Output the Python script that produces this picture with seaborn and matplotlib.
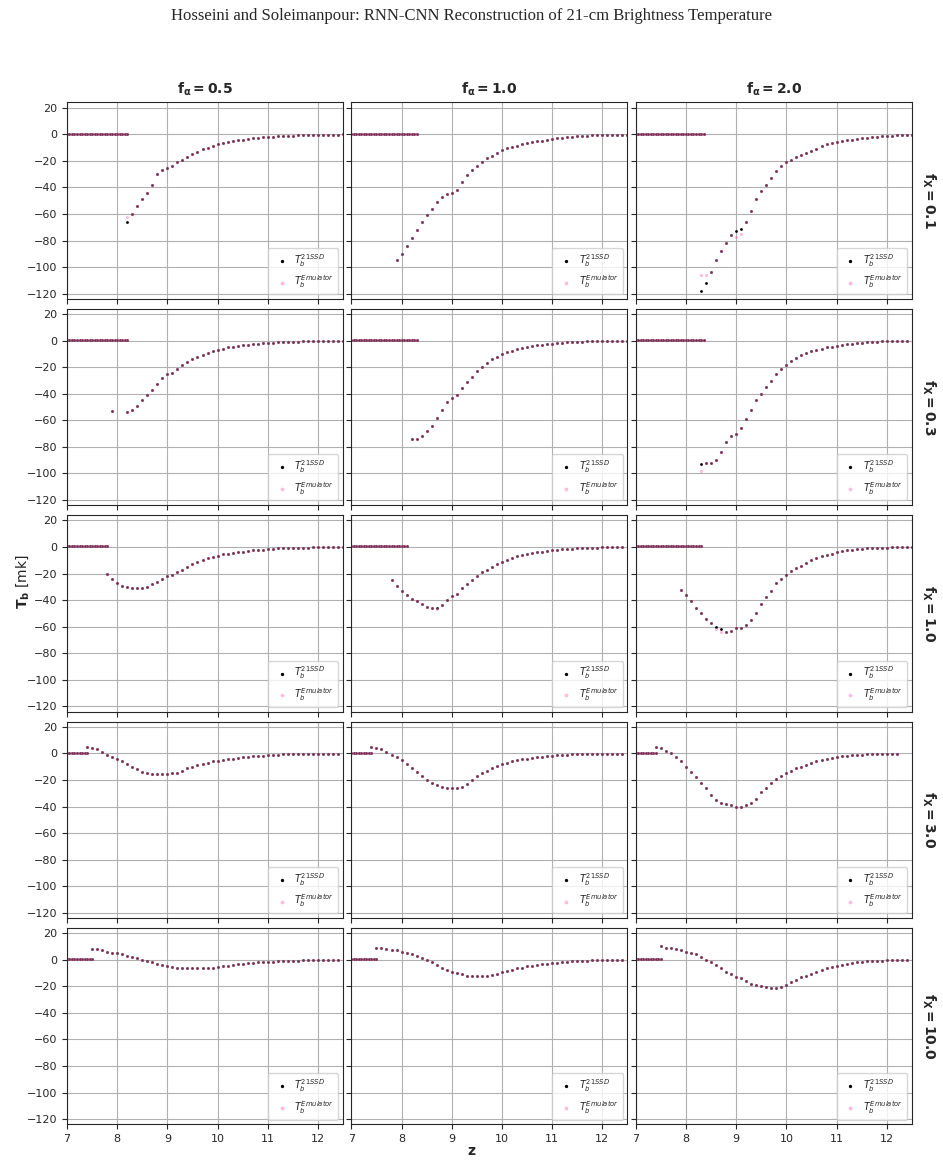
import numpy as np
import pandas as pd
import matplotlib
matplotlib.use("Agg")
import matplotlib.pyplot as plt
import seaborn as sns

# column / row parameters
f_alpha = [0.5, 1.0, 2.0]
f_x = [0.1, 0.3, 1.0, 3.0, 10.0]

# where the flat (pre-reionisation) segment ends, per row x column
flat_end = [[8.2, 8.3, 8.35], [8.2, 8.3, 8.35], [7.8, 8.1, 8.3],
            [7.4, 7.4, 7.4], [7.5, 7.5, 7.5]]
flat_level = [0.5, 0.5, 0.5, 0.3, 0.3]

# curve start redshift, curve sampled every 0.1 in z
curve_start = [[8.2, 7.9, 8.3], [7.9, 8.2, 8.3], [7.8, 7.8, 7.9],
               [7.4, 7.4, 7.4], [7.5, 7.5, 7.5]]

tb_fx01_fa05 = [-66, -60, -54, -49, -44, -38, -30, -27, -25, -24, -21, -19, -17, -15, -13, -11, -10,
                -8.5, -7.5, -6.5, -5.5, -5, -4.5, -4, -3.5, -3, -2.5, -2.2, -2, -1.8, -1.5, -1.3, -1.1,
                -1, -0.8, -0.7, -0.6, -0.5, -0.4, -0.3, -0.3, -0.2, -0.2, -0.1]
tb_fx01_fa10 = [-95, -90, -84, -78, -72, -66, -61, -56, -51, -47, -45, -44, -42, -36, -31, -27, -24,
                -21, -18, -16, -14, -12, -10.5, -9.5, -8.5, -7.5, -6.8, -6, -5.3, -4.7, -4.2, -3.6, -3,
                -2.6, -2.2, -1.9, -1.6, -1.3, -1.1, -0.9, -0.7, -0.6, -0.5, -0.4, -0.3, -0.2, -0.2, -0.1]
tb_fx01_fa20 = [-118, -112, -104, -95, -88, -82, -76, -73, -71, -66, -58, -49, -43, -38, -33, -28, -24,
                -21, -19, -17, -15.5, -14, -12.5, -11, -9, -7.5, -6.5, -5.5, -5, -4.5, -4, -3.5, -3,
                -2.6, -2.2, -1.8, -1.5, -1.2, -1, -0.8, -0.6, -0.5, -0.4, -0.3, -0.2]
tb_fx03_fa05 = [-53, np.nan, np.nan, -54, -52, -49, -45, -41, -37, -33, -28, -25, -24, -21, -18, -16,
                -14, -12, -11, -9.5, -8, -7, -6, -5, -4.5, -4, -3.5, -3, -2.5, -2.2, -2, -1.7, -1.5,
                -1.3, -1.1, -1, -0.8, -0.7, -0.6, -0.5, -0.4, -0.3, -0.3, -0.2, -0.2, -0.1, -0.1]
tb_fx03_fa10 = [-74, -74, -72, -68, -64, -58, -52, -46, -43, -41, -36, -31, -27, -23, -20, -17, -14,
                -12, -10, -8.5, -7.5, -6.5, -5.5, -4.8, -4, -3.5, -3, -2.6, -2.2, -1.9, -1.6, -1.3,
                -1.1, -0.9, -0.7, -0.6, -0.5, -0.4, -0.3, -0.2, -0.2, -0.1, -0.1, -0.1]
tb_fx03_fa20 = [-93, -92, -92, -90, -84, -76, -72, -70, -66, -59, -52, -45, -40, -35, -30, -25, -21,
                -18, -15, -13, -11, -9.5, -8, -7, -6, -5, -4.5, -4, -3.3, -2.8, -2.3, -1.9, -1.6, -1.3,
                -1, -0.8, -0.6, -0.5, -0.4, -0.3, -0.2, -0.1]
tb_fx1_fa05 = [-20, -24, -27, -29, -30, -31, -31, -31, -30, -28, -26, -24, -22, -21, -19, -17, -15,
               -13, -11, -10, -8.5, -7.5, -6.5, -5.5, -5, -4.5, -4, -3.5, -3, -2.5, -2.2, -1.9, -1.6,
               -1.3, -1.1, -0.9, -0.8, -0.7, -0.6, -0.5, -0.4, -0.3, -0.3, -0.2, -0.2, -0.1, -0.1, -0.1]
tb_fx1_fa10 = [-25, -29, -33, -36, -39, -41, -43, -45, -46, -46, -44, -40, -37, -35, -31, -28, -25,
               -22, -19, -17, -15, -13, -11, -9.5, -8, -7, -6, -5, -4.5, -4, -3.5, -3, -2.5, -2.1,
               -1.8, -1.5, -1.2, -1, -0.8, -0.7, -0.5, -0.4, -0.3, -0.3, -0.2, -0.2, -0.1]
tb_fx1_fa20 = [-32, -36, -41, -46, -50, -54, -57, -60, -62, -64, -63, -61, -61, -59, -55, -50, -43,
               -38, -33, -27, -24, -21, -18, -16, -14, -12, -10, -8.5, -7, -6, -5, -4, -3.3, -2.6,
               -2, -1.6, -1.3, -1, -0.8, -0.6, -0.5, -0.4, -0.3, -0.2, -0.2, -0.1, -0.1]
tb_fx3_fa05 = [5, 4, 3, 1, -1, -2.5, -4, -6, -8, -10, -12, -14, -15, -15.5, -15.5, -15.5, -15.5, -15,
               -14.5, -13, -11, -10, -9, -8, -7, -6, -5.5, -5, -4.5, -4, -3.5, -3, -2.5, -2.2, -1.9,
               -1.6, -1.3, -1.1, -0.9, -0.7, -0.6, -0.5, -0.4, -0.3, -0.2, -0.2, -0.1, -0.1, -0.1,
               -0.1, -0.1]
tb_fx3_fa10 = [5, 4, 3, 1, -1, -3, -5, -8, -11, -14, -17, -20, -22, -24, -25, -26, -26, -26, -25,
               -23, -20, -17, -15, -13, -11, -9.5, -8, -7, -6, -5, -4.5, -4, -3.5, -3, -2.5, -2.2,
               -1.8, -1.5, -1.2, -1, -0.8, -0.6, -0.5, -0.4, -0.3, -0.2, -0.2, -0.1, -0.1, -0.1, -0.1]
tb_fx3_fa20 = [5, 4, 2, 0, -3, -6, -10, -14, -18, -22, -26, -31, -35, -37, -38, -39, -40, -40, -39,
               -37, -34, -29, -26, -22, -19, -17, -15, -13, -11, -10, -8.5, -7, -6, -5, -4, -3.3,
               -2.7, -2.2, -1.8, -1.4, -1.1, -0.9, -0.7, -0.5, -0.4, -0.3, -0.2, -0.2, -0.1]
tb_fx10_fa05 = [8, 8, 7, 6, 5, 5, 4, 3, 2, 1, 0, -1, -2, -3, -4, -5, -5.5, -6, -6.5, -6.5, -6.5,
                -6.5, -6.5, -6, -6, -5.5, -5, -4.5, -4, -3.5, -3, -2.5, -2.2, -2, -1.8, -1.6, -1.4,
                -1.2, -1, -0.8, -0.7, -0.6, -0.5, -0.4, -0.3, -0.3, -0.2, -0.2, -0.1, -0.1]
tb_fx10_fa10 = [9, 9, 8, 7, 7, 6, 5, 4, 3, 1.5, 0, -2, -4, -6, -7.5, -9, -10, -11, -12, -12, -12.5,
                -12.5, -12, -11.5, -10.5, -9.5, -8.5, -7.5, -6.5, -6, -5, -4.5, -4, -3.5, -3, -2.5,
                -2.2, -1.8, -1.5, -1.2, -1, -0.8, -0.6, -0.5, -0.4, -0.3, -0.2, -0.2, -0.1, -0.1]
tb_fx10_fa20 = [10, 9, 9, 8, 7, 6, 5, 4, 2, 0, -2, -4, -6, -9, -11, -13, -14, -16, -18, -19, -20,
                -20.5, -21, -21, -20.5, -19, -17, -15, -13, -12, -10.5, -9, -8, -6.5, -5.5, -4.5,
                -3.8, -3, -2.5, -2, -1.6, -1.2, -1, -0.8, -0.6, -0.5, -0.3, -0.2, -0.2, -0.1]

# emulator offsets where it visibly departs from the simulation (row, col, index, dT)
emu_offsets = [(0, 0, 0, 4), (0, 2, 0, 12), (0, 2, 1, 6), (0, 2, 7, -4), (0, 2, 8, -4),
               (1, 2, 0, -5), (2, 2, 7, -2), (2, 2, 8, -2), (2, 1, 9, -1)]

curves = [[tb_fx01_fa05, tb_fx01_fa10, tb_fx01_fa20],
          [tb_fx03_fa05, tb_fx03_fa10, tb_fx03_fa20],
          [tb_fx1_fa05, tb_fx1_fa10, tb_fx1_fa20],
          [tb_fx3_fa05, tb_fx3_fa10, tb_fx3_fa20],
          [tb_fx10_fa05, tb_fx10_fa10, tb_fx10_fa20]]

sns.set_style("ticks")
fig, axes = plt.subplots(5, 3, figsize=(9.43, 11.64), dpi=100, sharex=True, sharey=True)
fig.subplots_adjust(left=0.071, right=0.967, top=0.912, bottom=0.034, wspace=0.03, hspace=0.05)

for i in range(5):
    for j in range(3):
        ax = axes[i, j]
        zf = np.arange(7.0, flat_end[i][j] + 1e-6, 0.05)
        vals = np.array(curves[i][j], dtype=float)
        zc = curve_start[i][j] + 0.1 * np.arange(len(vals))
        emu = vals.copy()
        for (r, c, k, d) in emu_offsets:
            if r == i and c == j:
                emu[k] += d
        df = pd.DataFrame({
            "z": np.concatenate([zf, zc]),
            "ssd": np.concatenate([np.full(len(zf), flat_level[i]), vals]),
            "emu": np.concatenate([np.full(len(zf), flat_level[i]), emu]),
        })
        sns.scatterplot(data=df, x="z", y="ssd", ax=ax, color="black", s=4,
                        linewidth=0, label=r"$T_b^{21SSD}$")
        sns.scatterplot(data=df, x="z", y="emu", ax=ax, color="hotpink", s=5, alpha=0.45,
                        linewidth=0, label=r"$T_b^{Emulator}$")
        ax.set_xlim(7, 12.5)
        ax.set_ylim(-124, 24)
        ax.set_xticks([7, 8, 9, 10, 11, 12])
        ax.set_yticks(range(-120, 21, 20))
        ax.grid(True, color="#b0b0b0", linewidth=0.8)
        ax.set_xlabel("")
        ax.set_ylabel("")
        ax.tick_params(labelsize=8)
        ax.legend(loc="lower right", fontsize=7, markerscale=1.2, handletextpad=0.3)
        if i == 0:
            ax.set_title(r"$\mathbf{f_\alpha = %s}$" % f_alpha[j], fontsize=10)
        if j == 2:
            ax.text(1.06, 0.5, r"$\mathbf{f_X = %s}$" % f_x[i], transform=ax.transAxes,
                    rotation=-90, va="center", ha="center", fontsize=10)

fig.text(0.015, 0.5, r"$\mathbf{T_b}$ [mk]", rotation=90, va="center", fontsize=10)
fig.text(0.5, 0.008, r"$\mathbf{z}$", ha="center", fontsize=10)
fig.suptitle("Hosseini and Soleimanpour: RNN-CNN Reconstruction of 21-cm Brightness Temperature",
             y=0.993, fontsize=12, family="Liberation Serif")
fig.savefig("out.png", dpi=100)
